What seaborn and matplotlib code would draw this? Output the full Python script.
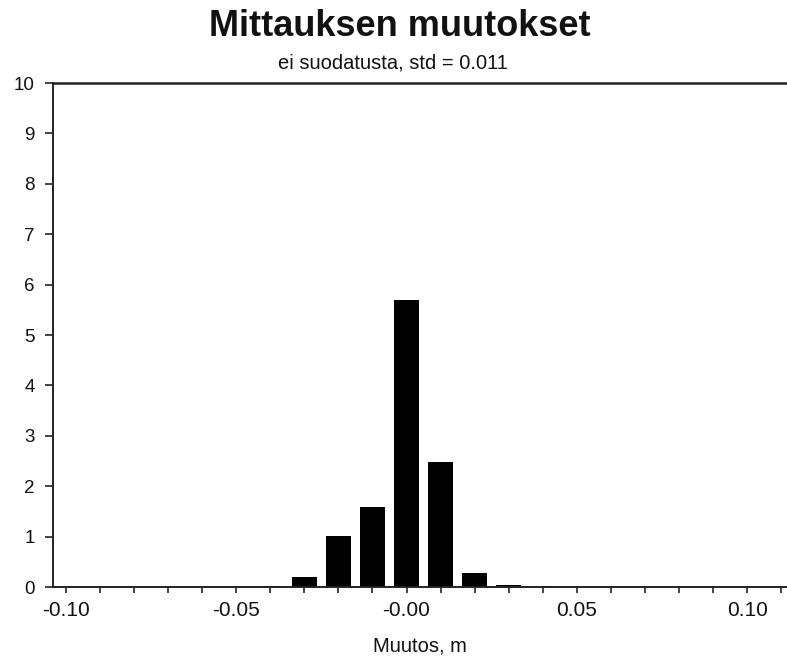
import numpy as np
import pandas as pd
import matplotlib
matplotlib.use("Agg")
import matplotlib.pyplot as plt
import seaborn as sns

# Histogram of measurement changes (bin centres in metres, bar heights)
bin_centers = [-0.04, -0.03, -0.02, -0.01, 0.00, 0.01, 0.02, 0.03, 0.04]
bar_heights = [0.02, 0.20, 1.01, 1.59, 5.69, 2.48, 0.28, 0.04, 0.01]

x_tick_values = [-0.10, -0.05, 0.00, 0.05, 0.10]
x_tick_labels = ["-0.10", "-0.05", "-0.00", "0.05", "0.10"]
y_tick_values = list(range(0, 11))

title_text = "Mittauksen muutokset"
subtitle_text = "ei suodatusta, std = 0.011"
xlabel_text = "Muutos, m"

sns.set_theme(style="white")
plt.rcParams["font.family"] = ["Liberation Sans", "DejaVu Sans"]

fig = plt.figure(figsize=(7.87, 6.58), dpi=100)
ax = fig.add_axes([53 / 787, 1 - 587 / 658, 1 - 53 / 787, (587 - 83) / 658])

df = pd.DataFrame({"muutos": bin_centers, "osuus": bar_heights})
bin_width = 0.01
edges = [c - bin_width / 2 for c in bin_centers] + [bin_centers[-1] + bin_width / 2]
sns.histplot(data=df, x="muutos", weights="osuus", bins=edges, shrink=0.75,
             color="black", edgecolor="none", alpha=1.0, ax=ax)

ax.set_xlim(-0.1038, 0.1117)
ax.set_ylim(0, 10)

ax.set_xticks(x_tick_values)
ax.set_xticklabels(x_tick_labels)
ax.set_xticks(np.arange(-0.10, 0.111, 0.01), minor=True)
ax.set_yticks(y_tick_values)
ax.set_yticklabels([str(v) for v in y_tick_values])

ax.tick_params(axis="x", which="both", direction="out", length=4, width=1.2,
               color="#222222", bottom=True, labelsize=15, pad=6, labelcolor="#111111")
ax.tick_params(axis="y", which="major", direction="out", length=6, width=1.2,
               color="#222222", left=True, labelsize=13.5, pad=7, labelcolor="#111111")

for side in ["left", "bottom", "top"]:
    ax.spines[side].set_visible(True)
    ax.spines[side].set_color("#222222")
    ax.spines[side].set_linewidth(1.4)
ax.spines["top"].set_linewidth(1.8)
ax.spines["right"].set_visible(False)

ax.set_ylabel("")
ax.set_xlabel(xlabel_text, fontsize=14.5, labelpad=12, color="#111111")

fig.text(400 / 787, 1 - 27 / 658, title_text, ha="center", va="center",
         fontsize=26, fontweight="bold", color="#111111")
fig.text(393 / 787, 1 - 63 / 658, subtitle_text, ha="center", va="center",
         fontsize=14.5, color="#111111")

fig.savefig("out.png", dpi=100, facecolor="white")
